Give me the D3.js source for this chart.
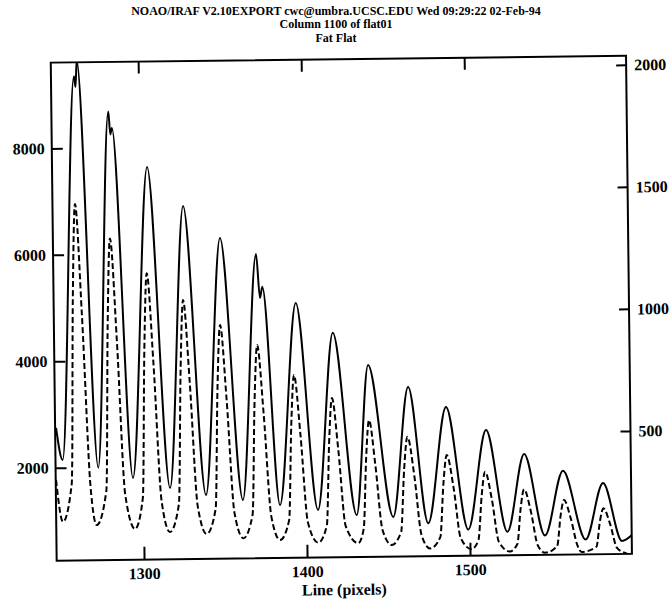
<!DOCTYPE html>
<html>
<head>
<meta charset="utf-8">
<script src="https://cdn.jsdelivr.net/npm/d3@7"></script>
<style>
  body { margin: 0; background: #fff; }
  text { font-family: 'Liberation Serif', 'DejaVu Serif', serif; font-weight: bold; fill: #000; }
</style>
</head>
<body>
<script>
// values: line (pixels) vs counts
const solidLine = [1247.0, 1250.8, 1260.5, 1261.4, 1262.3, 1272.6, 1281.3, 1282.4, 1283.4, 1293.8,
  1304.7, 1316.5, 1326.5, 1338.5, 1348.9, 1361.1, 1370.9, 1373.0, 1374.5, 1383.8,
  1394.9, 1407.1, 1417.4, 1430.8, 1438.8, 1453.2, 1463.2, 1474.6, 1486.3, 1499.1,
  1510.7, 1523.1, 1533.9, 1546.1, 1557.6, 1571.0, 1582.1, 1593.3, 1599.4]
const solidCounts = [2747, 2144, 9350, 9150, 9650, 1992, 8680, 8250, 8370, 1791,
  7629, 1593, 6889, 1454, 6278, 1353, 5970, 5144, 5354, 1250,
  5041, 1148, 4475, 1045, 3861, 1000, 3438, 874, 3055, 748,
  2613, 697, 2153, 618, 1832, 534, 1592, 498, 607]

// dashed trace, read against the right hand axis (narrow peaks, wide flat troughs)
const dashLine = [1246.6, 1250.5,
  1256.2, 1258.2, 1260.2, 1263.7, 1267.7, 1271.2,
  1277.4, 1279.4, 1281.4, 1284.9, 1288.9, 1294.7,
  1299.7, 1301.7, 1303.7, 1307.2, 1311.2, 1316.1,
  1321.8, 1323.8, 1325.8, 1329.3, 1333.3, 1338.6,
  1344.3, 1346.3, 1348.3, 1351.8, 1355.8, 1361.1,
  1366.9, 1368.9, 1370.9, 1374.4, 1378.4, 1383.6,
  1389.3, 1391.3, 1393.3, 1396.8, 1400.8, 1407.0,
  1412.4, 1414.4, 1416.4, 1419.9, 1423.9, 1431.5,
  1435.0, 1437.0, 1439.0, 1442.5, 1446.5, 1452.0,
  1457.9, 1460.2, 1462.4, 1466.4, 1470.4, 1475.5,
  1481.9, 1484.2, 1486.4, 1490.4, 1494.4, 1501.0,
  1505.3, 1507.6, 1509.8, 1513.8, 1517.8, 1524.5,
  1529.1, 1531.4, 1533.6, 1537.6, 1541.6, 1546.0,
  1553.5, 1555.8, 1558.0, 1562.0, 1566.0, 1568.5,
  1577.6, 1579.9, 1582.1, 1586.1, 1590.1, 1595.1, 1599.4]
const dashCounts = [327, 155,
  311, 1066, 1457, 996, 298, 140,
  281, 962, 1314, 897, 265, 122,
  248, 855, 1169, 798, 235, 108,
  222, 773, 1058, 722, 213, 98,
  201, 697, 954, 648, 184, 79,
  174, 633, 870, 590, 166, 70,
  151, 543, 745, 504, 140, 57,
  128, 471, 649, 440, 125, 53,
  113, 406, 557, 377, 106, 44,
  97, 354, 487, 326, 83, 28,
  74, 295, 410, 275, 69, 23,
  61, 245, 340, 225, 51, 12,
  42, 190, 266, 175, 36, 5,
  31, 155, 220, 145, 32, 6,
  27, 131, 184, 120, 22, 0, -10]

const xTicks = [1300, 1400, 1500]
const leftTicks = [2000, 4000, 6000, 8000]
const rightTicks = [500, 1000, 1500, 2000]
const titleLines = [
  'NOAO/IRAF V2.10EXPORT cwc@umbra.UCSC.EDU Wed 09:29:22 02-Feb-94',
  'Column 1100 of flat01',
  'Fat Flat'
]
const xLabel = 'Line (pixels)'

const frame = { left: 53.7, right: 629, top: 59.2, bottom: 557.3 }

const svg = d3.select('body')
  .append('svg')
  .attr('width', 669)
  .attr('height', 601)

// title, three tight lines
svg.selectAll('.title')
  .data(titleLines)
  .enter()
  .append('text')
  .attr('class', 'title')
  .attr('x', 336)
  .attr('y', (d, i) => 15 + i * 13.4)
  .attr('text-anchor', 'middle')
  .style('font-size', '12px')
  .text(d => d)

// the scanned page sits a little crooked
const g = svg.append('g')
  .attr('transform', 'rotate(-0.68, 341.3, 308.1)')

const x = d3.scaleLinear().domain([1246.4, 1599.3]).range([frame.left, frame.right])
const yLeft = d3.scaleLinear().domain([254, 9611]).range([frame.bottom, frame.top])
const yRight = d3.scaleLinear().domain([-4, 2037]).range([frame.bottom, frame.top])

g.append('clipPath')
  .attr('id', 'plot-clip')
  .append('rect')
  .attr('x', frame.left)
  .attr('y', frame.top)
  .attr('width', frame.right - frame.left)
  .attr('height', frame.bottom - frame.top)

// axes, ticks pointing inward
const bottomAxis = d3.axisBottom(x).tickValues(xTicks).tickSizeInner(-13).tickSizeOuter(0)
  .tickPadding(8).tickFormat(d3.format('d'))
const topAxis = d3.axisTop(x).tickValues(xTicks).tickSizeInner(-12).tickSizeOuter(0).tickFormat('')
const leftAxis = d3.axisLeft(yLeft).tickValues(leftTicks).tickSizeInner(-11).tickSizeOuter(0)
  .tickPadding(7).tickFormat(d3.format('d'))
const rightAxis = d3.axisRight(yRight).tickValues(rightTicks).tickSizeInner(-10).tickSizeOuter(0)
  .tickPadding(8).tickFormat(d3.format('d'))

g.append('g').attr('transform', `translate(0,${frame.bottom})`).call(bottomAxis)
g.append('g').attr('transform', `translate(0,${frame.top})`).call(topAxis)
g.append('g').attr('transform', `translate(${frame.left},0)`).call(leftAxis)
g.append('g').attr('transform', `translate(${frame.right},0)`).call(rightAxis)

g.selectAll('.domain').remove()
g.selectAll('.tick line').attr('stroke', '#000').attr('stroke-width', 2)
g.selectAll('.tick text')
  .style('font-size', '16px')
  .style('font-family', "'Liberation Serif', serif")
  .style('font-weight', 'bold')
  .attr('fill', '#000')

g.append('rect')
  .attr('x', frame.left)
  .attr('y', frame.top)
  .attr('width', frame.right - frame.left)
  .attr('height', frame.bottom - frame.top)
  .attr('fill', 'none')
  .attr('stroke', '#000')
  .attr('stroke-width', 2)

g.append('text')
  .attr('x', 341)
  .attr('y', 595)
  .attr('text-anchor', 'middle')
  .style('font-size', '16px')
  .text(xLabel)

const solidLineGen = d3.line()
  .x((d, i) => x(solidLine[i]))
  .y(d => yLeft(d))
  .curve(d3.curveMonotoneX)

const dashLineGen = d3.line()
  .x((d, i) => x(dashLine[i]))
  .y(d => yRight(d))
  .curve(d3.curveMonotoneX)

const plot = g.append('g').attr('clip-path', 'url(#plot-clip)')

plot.append('path')
  .datum(solidCounts)
  .attr('d', solidLineGen)
  .attr('fill', 'none')
  .attr('stroke', '#000')
  .attr('stroke-width', 2)

plot.append('path')
  .datum(dashCounts)
  .attr('d', dashLineGen)
  .attr('fill', 'none')
  .attr('stroke', '#000')
  .attr('stroke-width', 2)
  .attr('stroke-dasharray', '6,3')
</script>
</body>
</html>
